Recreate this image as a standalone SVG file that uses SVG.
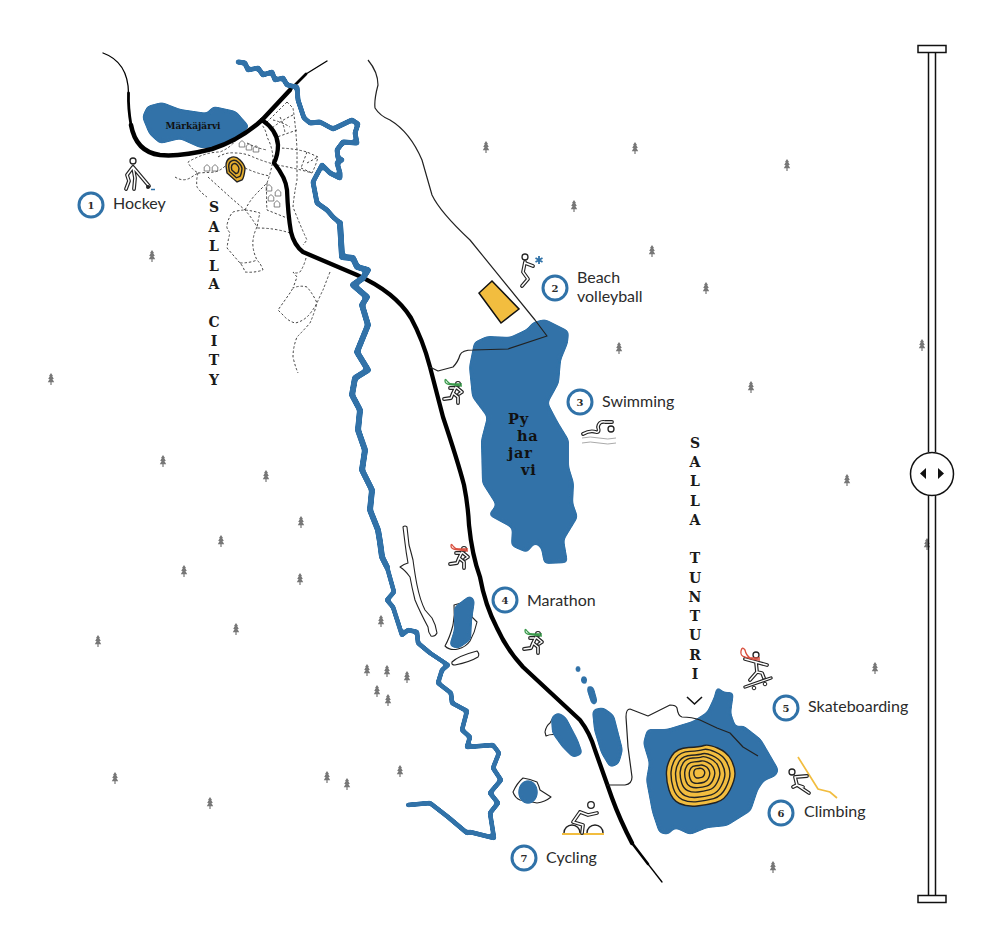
<svg xmlns="http://www.w3.org/2000/svg" xmlns:xlink="http://www.w3.org/1999/xlink" width="1000" height="947" viewBox="0 0 1000 947">
<style>
text{font-family:"Lato","Liberation Sans",sans-serif;fill:#2b2b2b}
.lbl{font-size:16px}
.num{font-family:"DejaVu Serif","Liberation Serif",serif;font-size:10px;font-weight:700;text-anchor:middle}
.ring{fill:#fff;stroke:#3072a8;stroke-width:3}
.v{font-family:"DejaVu Serif","Liberation Serif",serif;font-size:14px;font-weight:700;text-anchor:middle;fill:#1a1a1a}
.lk{font-family:"DejaVu Serif","Liberation Serif",serif;font-weight:700;fill:#111}
.water{fill:#3072a8}
.river{fill:none;stroke:#3072a8;stroke-linejoin:round;stroke-linecap:round}
.road{fill:none;stroke:#000;stroke-linecap:round;stroke-linejoin:round}
.thin{fill:none;stroke:#222;stroke-width:1.2;stroke-linejoin:round}
.trail{fill:none;stroke:#444;stroke-width:1;stroke-dasharray:2.4 2;stroke-linejoin:round}
.pond{fill:#fff;stroke:#222;stroke-width:1.1;stroke-linejoin:round}
.ol{fill:none;stroke:#222;stroke-width:3.8;stroke-linecap:round;stroke-linejoin:round}
.il{fill:none;stroke:#fff;stroke-width:1.5;stroke-linecap:round;stroke-linejoin:round}
.ct{fill:none;stroke:#222;stroke-width:1.4}
.slide{fill:#fff;stroke:#111;stroke-width:1.5}
.tree{fill:#777}
.house{fill:#fff;stroke:#777;stroke-width:.9}
</style>
<defs>
<filter id="soft" filterUnits="userSpaceOnUse" x="0" y="0" width="1000" height="947">
<feGaussianBlur stdDeviation="2.4"/>
<feComponentTransfer><feFuncA type="linear" slope="8" intercept="-3.4"/></feComponentTransfer>
</filter>
<filter id="softr" filterUnits="userSpaceOnUse" x="0" y="0" width="1000" height="947">
<feGaussianBlur stdDeviation="1"/>
<feComponentTransfer><feFuncA type="linear" slope="5" intercept="-1.7"/></feComponentTransfer>
</filter>
<g id="tree"><path class="tree" d="M0-6 2-3H1.2L2.8 0H1.4L3.2 3.2H.6V6H-.6V3.2H-3.2L-1.4 0H-2.8L-1.2-3H-2Z"/></g>
<path id="house" class="house" d="M-2.8 3V-1L0-3.4 2.8-1V3Z"/>
<path id="contour" vector-effect="non-scaling-stroke" d="M-27-19.5Q-22-27-10.5-27.5 1-28 5-29.5 9-31 18.5-27 28-23 32-15.5 36-8 36-1.5 36 5 31 15 26 25 17 27.5 8 30-2 31-12 32-19.5 28.5-27 25-30 15-33 5-32.500-3.500-32-12-27-19.5Z"/>
<path id="mini" vector-effect="non-scaling-stroke" d="M-9-2Q-9-8-5-10 0-13 5-8 10-3 10 1 9 10 7 12L2 14-8 5Z"/>
<path id="runbody" d="M3-5 0 1M3-5 9 0 6 2M1-4-3-4M0 1 5 5 5 11M0 1-2 6-9 7"/>
<path id="hockeybody" d="M133 167 127 175 129 181 126 189M133 167 135 178 134 189M133 167 149 186"/>
<path id="beachbody" d="M525 262 523 272 528 279 522 286M525 263 533 266"/>
<path id="swimbody" d="M583 434Q590 430 596 432 600 433 598 427 599 421 605 422L612 422"/>
<path id="skatebody" d="M745 659 756 662 767 665M756 662 757 672 750 680M757 672 762 673 764 678"/>
<path id="climbbody" d="M795 777 807 776M795 777 797 785 809 793M797 785 803 787M797 785 793 787"/>
<path id="cyclebody" d="M580 812 573 822 583 825 582 833M580 812 588 815 597 813"/>
</defs>

<g id="trees">
<use href="#tree" x="486" y="147"/><use href="#tree" x="635" y="148"/><use href="#tree" x="787" y="165"/><use href="#tree" x="574" y="206"/><use href="#tree" x="652" y="251"/><use href="#tree" x="706" y="288"/><use href="#tree" x="619" y="348"/><use href="#tree" x="922" y="345"/><use href="#tree" x="751" y="387"/><use href="#tree" x="847" y="480"/><use href="#tree" x="927" y="544"/><use href="#tree" x="875" y="668"/><use href="#tree" x="773" y="867"/><use href="#tree" x="152" y="256"/><use href="#tree" x="51" y="379"/><use href="#tree" x="163" y="461"/><use href="#tree" x="266" y="476"/><use href="#tree" x="301" y="522"/><use href="#tree" x="221" y="541"/><use href="#tree" x="184" y="571"/><use href="#tree" x="300" y="579"/><use href="#tree" x="98" y="641"/><use href="#tree" x="236" y="629"/><use href="#tree" x="381" y="621"/><use href="#tree" x="367" y="670"/><use href="#tree" x="387" y="671"/><use href="#tree" x="407" y="677"/><use href="#tree" x="377" y="691"/><use href="#tree" x="388" y="700"/><use href="#tree" x="400" y="771"/><use href="#tree" x="327" y="777"/><use href="#tree" x="347" y="784"/><use href="#tree" x="115" y="778"/><use href="#tree" x="210" y="803"/>
</g>

<g id="ponds">
<path class="pond" d="M403 527Q405 525 407 527L409 545Q411 552 413 560 415 575 417 585 420 600 425 610L432 618Q436 625 437 633 435 637 431 636 428 632 428 627 420 612 415 600 412 588 410 577 405 570 400 567 404 564 408 563 406 552 405 543Z"/>
<path class="pond" d="M452 662Q458 656 477 651 480 654 478 657 470 662 455 665 451 665 452 662Z"/>
<path class="pond" d="M454 605Q455 615 453 625 450 637 445 646 450 651 458 649 466 647 470 641 475 632 477 622L472 617 472 600Z"/>
<path class="pond" d="M545 732Q546 726 550 723 552 719 554 717L562 736Q552 733 546 736Z"/>
<path class="pond" d="M513 792Q517 783 523 778 530 779 537 782 539 786 540 790L551 797Q545 802 537 803 528 801 520 800 515 798 513 792Z"/>
</g>

<g id="lakes" filter="url(#soft)">
<path id="markajarvi" class="water" d="M142 117 147 106 162 102 180 109 207 113 213 106 236 111 250 127 234 139 218 148 200 148 180 139 160 144 149 134Z"/>
<path id="pyhajarvi" class="water" d="M533 322 545 319 569 331 568 343 561 360 559 383 548 403 558 422 569 440 569 467 574 483 573 503 578 517 564 540 568 563 544 564 541 548 535 543 527 553 511 546 512 528 488 515 496 505 482 483 481 440 487 417 472 397 469 367 474 342 487 336 510 337 527 329Z"/>
<path id="tunturi" class="water" d="M717 685 723 692 734 692 731 713 736 727 743 725 761 739 779 770 776 776 764 781 758 790 751 811 727 826 707 828 690 835 675 828 668 835 659 833 652 812 646 780 649 763 643 743 647 729 667 729 693 721 707 712 714 697Z"/>
<path class="water" d="M592 710 603 707 614 715 623 750 619 764 610 768 601 753 594 730Z"/>
<path class="water" d="M551 717 558 712 566 717 578 740 583 754 573 758 562 747 552 733Z"/>
<path class="water" d="M454 607 470 595 475 600 472 620 471 640 458 649 449 646 454 630Z"/>
<ellipse class="water" cx="528" cy="792" rx="10" ry="12"/>
<path class="water" d="M586 687 593 685 598 703 592 706Z"/>
<ellipse class="water" cx="584" cy="680" rx="3.500" ry="5"/>
<ellipse class="water" cx="578" cy="669" rx="3" ry="4.500"/>
</g>

<g id="mountain">
<use href="#contour" transform="translate(699 775)" class="ct" style="fill:#f2bd3f"/>
<use href="#contour" transform="translate(699 775) scale(.86)" class="ct"/>
<use href="#contour" transform="translate(699 775) scale(.72)" class="ct"/>
<use href="#contour" transform="translate(699 774) scale(.58)" class="ct"/>
<use href="#contour" transform="translate(699 774) scale(.44)" class="ct"/>
<use href="#contour" transform="translate(699 774) scale(.3)" class="ct"/>
<use href="#contour" transform="translate(699 773) scale(.16)" class="ct"/>
</g>
<g id="hill">
<use href="#mini" transform="translate(235 168)" class="ct" style="fill:#e6ae2e"/>
<use href="#mini" transform="translate(235 168) scale(.7)" class="ct"/>
<use href="#mini" transform="translate(235 168) scale(.4)" class="ct"/>
</g>
<path id="field" fill="#f2bd3f" stroke="#111" stroke-width="1.5" d="M492 281 519 309 501 323 479 293Z"/>

<g id="houses">
<use href="#house" x="242" y="144"/><use href="#house" x="249" y="147"/><use href="#house" x="256" y="149"/><use href="#house" x="207" y="168"/><use href="#house" x="215" y="168"/><use href="#house" x="269" y="188"/><use href="#house" x="278" y="193"/><use href="#house" x="271" y="198"/><use href="#house" x="277" y="204"/>
</g>

<g id="connectors">
<g id="trails">
<path class="trail" d="M175 177Q183 182 190 178L198 173Q190 168 188 162 205 152 220 152 230 148 236 140M198 173 215 172Q222 170 227 164M198 173Q196 180 197 187 201 193 207 197"/>
<path class="trail" d="M208 177 230 197 245 210Q252 218 257 227 252 237 253 247 254 254 257 260 261 264 263 270 254 273 245 272 243 266 240 263L227 248Q228 240 230 233 226 228 227 225 229 216 233 212 240 210 245 210 254 211 260 213 258 220 257 228 275 228 290 233M240 263Q250 263 257 260"/>
<path class="trail" d="M218 157Q226 152 235 153 245 153 253 157 265 162 277 165 295 168 312 173 316 165 318 157L307 152Q292 148 277 148M245 210Q250 200 257 193 262 188 267 183 271 172 273 160 273 148 267 137 266 130 262 125M247 143Q256 148 267 150M267 183Q266 197 267 210 277 214 287 218M245 168Q258 174 270 176"/>
<path class="trail" d="M287 102 267 122M287 102 293 108Q296 128 297 150 297 165 297 180 294 195 293 207 300 225 307 240L303 245M273 120Q282 122 290 127M293 115Q282 120 272 128M297 130 277 137M280 117Q284 125 285 133M307 163 318 157M301 168 312 173M307 152 301 168"/>
<path class="trail" d="M306 258Q304 266 300 272 296 274 293 272L297 277 293 288Q300 285 307 287 313 294 317 303 312 312 307 317 301 322 295 323 288 321 283 315L278 310 290 293 293 288"/>
<path class="trail" d="M330 272Q326 282 323 290 320 296 317 303 314 314 310 323 303 331 297 337 293 347 293 357 295 366 298 373"/>
</g>
<g id="roads">
<path class="road" stroke-width="4.500" d="M262 120Q240 140 212 149 180 157 160 155 136 152 131 125"/>
<path class="road" stroke-width="2.800" d="M131 125Q128 108 128.500 93"/>
<path class="road" stroke-width="1.300" d="M128.500 93Q128 62 103 53"/>
<path class="road" stroke-width="4.500" d="M262 120 290 90"/>
<path class="road" stroke-width="2.800" d="M290 90 306 74"/>
<path class="road" stroke-width="1.400" d="M306 74 327 61"/>
<path class="road" stroke-width="4.300" d="M262 120Q277 130 278 145 278 155 274 163 286 178 287 190 288 215 291 232 294 245 303 252L357 275Q395 292 411 318 423 340 430 367L443 417Q458 462 464 485 468 505 469 525 472 555 480 577 485 605 497 628 507 650 523 667L580 720Q590 733 595 750L612 798Q620 820 632 843"/>
<path class="road" stroke-width="2.600" d="M632 843 648 864"/>
<path class="road" stroke-width="1.300" d="M648 864 662 882"/>
</g>
<g id="boundaries">
<path class="thin" d="M368 60Q378 72 378 85 374 100 375 108 380 116 390 120 410 132 422 160L432 195Q440 212 470 240L535 320 547 336 508 349 473 350Q462 350 460 355 458 362 453 367L438 371 430 367"/>
<path class="thin" d="M607 785H625Q632 784 632 777L628 747 626 717Q626 709 630 709L648 716 670 705Q676 705 677 708 678 716 682 717 692 717 700 720L717 728 730 733 743 747 758 756"/>
</g>
<g id="rivers" filter="url(#softr)">
<path class="river" stroke-width="4.800" d="M238 62 245 63 248 70 258 68 263 75 272 72 275 80 283 78 287 85 297 87 298 100 304 118 310 123 320 122 333 129 352 120 358 124 355 133 357 143 343 142 337 150 338 158 342 160 337 163 340 173 340 178 330 173 322 165 313 182 317 203 327 210 333 217 340 223"/>
<path class="river" stroke-width="5.800" d="M340 223 342 257 353 258 357 267 368 270 363 278 353 285 367 297 362 305 368 325 357 352 368 370 355 378 352 395 360 410 358 430 365 450 362 470 372 490 370 510 378 530 380 542 382 557 387 567"/>
<path class="river" stroke-width="4.500" d="M387 567 394 592 387 600 393 607 402 635 408 630 417 632 418 643 430 653 448 665 442 670 438 683 451 693 452 703 467 711 462 730 470 737 467 747 493 745 499 753 493 768 501 780 490 793 498 803 490 813 494 838 470 832 467 833 448 817 430 803 408 805"/>
</g>
</g>

<g id="n1"><circle class="ring" cx="91" cy="205" r="12"/><text class="num" x="91" y="209">1</text><text class="lbl" x="113" y="209">Hockey</text>
<use href="#hockeybody" class="ol"/><use href="#hockeybody" class="il"/><circle cx="133" cy="161" r="3" fill="#fff" stroke="#222" stroke-width="1.300"/><circle cx="148" cy="187" r="2" fill="#222"/><path d="M151 189.500H155" stroke="#3072a8" stroke-width="1.500"/></g>

<g id="n2"><circle class="ring" cx="555" cy="288" r="12"/><text class="num" x="555" y="292">2</text><text class="lbl" x="577" y="283">Beach</text><text class="lbl" x="577" y="302">volleyball</text>
<use href="#beachbody" class="ol"/><use href="#beachbody" class="il"/><circle cx="525" cy="257" r="3" fill="#fff" stroke="#222" stroke-width="1.300"/><path d="M539 256V264M535.500 258 542.500 262M535.500 262 542.500 258" fill="none" stroke="#3072a8" stroke-width="1.800"/></g>

<g id="n3"><circle class="ring" cx="580" cy="402" r="12"/><text class="num" x="580" y="406">3</text><text class="lbl" x="602" y="407">Swimming</text>
<use href="#swimbody" class="ol"/><use href="#swimbody" class="il"/><circle cx="611" cy="429" r="3" fill="#fff" stroke="#222" stroke-width="1.300"/><path d="M582 438Q590 436 599 438 608 440 616 438M582 443Q590 441 599 443 608 445 616 443" fill="none" stroke="#aaa" stroke-width="1"/></g>

<g id="n4"><circle class="ring" cx="505" cy="600" r="12"/><text class="num" x="505" y="604">4</text><text class="lbl" x="527" y="606">Marathon</text></g>

<g id="runner-a" transform="translate(453 392)"><use href="#runbody" class="ol"/><use href="#runbody" class="il"/><circle cx="5" cy="-8" r="2.500" fill="#fff" stroke="#222" stroke-width="1.100"/><path d="M9-8H0Q-4-8-6-11-8-14-8-11-8-8-3-7.500L9-6" fill="none" stroke="#3b9a4c" stroke-width="1.300"/></g>
<g id="runner-b" transform="translate(459 557)"><use href="#runbody" class="ol"/><use href="#runbody" class="il"/><circle cx="5" cy="-8" r="2.500" fill="#fff" stroke="#222" stroke-width="1.100"/><path d="M9-8H0Q-4-8-6-11-8-14-8-11-8-8-3-7.500L9-6" fill="none" stroke="#d9503f" stroke-width="1.300"/></g>
<g id="runner-c" transform="translate(533 642)"><use href="#runbody" class="ol"/><use href="#runbody" class="il"/><circle cx="5" cy="-8" r="2.500" fill="#fff" stroke="#222" stroke-width="1.100"/><path d="M9-8H0Q-4-8-6-11-8-14-8-11-8-8-3-7.500L9-6" fill="none" stroke="#3b9a4c" stroke-width="1.300"/></g>

<g id="n5"><circle class="ring" cx="786" cy="708" r="12"/><text class="num" x="786" y="712">5</text><text class="lbl" x="808" y="712">Skateboarding</text>
<use href="#skatebody" class="ol"/><use href="#skatebody" class="il"/><circle cx="756" cy="655" r="3" fill="#fff" stroke="#222" stroke-width="1.300"/><path d="M745 687 771 678" stroke="#222" stroke-width="3.400" stroke-linecap="round"/><path d="M745 687 771 678" stroke="#fff" stroke-width="1.200" stroke-linecap="round"/><circle cx="754" cy="688" r="1.800" fill="#fff" stroke="#222"/><circle cx="765" cy="684" r="1.800" fill="#fff" stroke="#222"/><path d="M760 658H750Q746 655 745 650 742 646 741 651 740 656 745 657 752 660 760 660" fill="none" stroke="#d9503f" stroke-width="1.300"/></g>

<g id="n6"><circle class="ring" cx="781" cy="813" r="12"/><text class="num" x="781" y="817">6</text><text class="lbl" x="804" y="817">Climbing</text>
<path d="M798 757 818 789 830 792 837 798" fill="none" stroke="#f2bd3f" stroke-width="1.700"/><use href="#climbbody" class="ol"/><use href="#climbbody" class="il"/><circle cx="792" cy="772" r="3" fill="#fff" stroke="#222" stroke-width="1.300"/></g>

<g id="n7"><circle class="ring" cx="524" cy="858" r="12"/><text class="num" x="524" y="862">7</text><text class="lbl" x="546" y="863">Cycling</text>
<path d="M564 833A8 8 0 0 1 580 833M587 833A8 8 0 0 1 603 833" fill="none" stroke="#222" stroke-width="1.400"/><path d="M562 834H604" stroke="#f2bd3f" stroke-width="1.800"/><use href="#cyclebody" class="ol"/><use href="#cyclebody" class="il"/><circle cx="591" cy="805" r="3.300" fill="#fff" stroke="#222" stroke-width="1.300"/></g>

<g id="names">
<text class="lk" x="193" y="129" font-size="9" text-anchor="middle">Märkäjärvi</text>
<text class="lk" font-size="14.500" letter-spacing=".8"><tspan x="508" y="424">Py</tspan><tspan x="517" y="441">ha</tspan><tspan x="508" y="458">jar</tspan><tspan x="521" y="475">vi</tspan></text>
<text class="v"><tspan x="214" y="212">S</tspan><tspan x="214" y="232">A</tspan><tspan x="214" y="251">L</tspan><tspan x="214" y="271">L</tspan><tspan x="214" y="289">A</tspan><tspan x="214" y="327">C</tspan><tspan x="214" y="346">I</tspan><tspan x="214" y="365">T</tspan><tspan x="214" y="385">Y</tspan></text>
<text class="v"><tspan x="695" y="448">S</tspan><tspan x="695" y="467">A</tspan><tspan x="695" y="486">L</tspan><tspan x="695" y="506">L</tspan><tspan x="695" y="525">A</tspan><tspan x="695" y="563">T</tspan><tspan x="695" y="583">U</tspan><tspan x="695" y="602">N</tspan><tspan x="695" y="621">T</tspan><tspan x="695" y="640">U</tspan><tspan x="695" y="660">R</tspan><tspan x="695" y="679">I</tspan></text>
<path d="M687 697 694.500 704 702 697" fill="none" stroke="#111" stroke-width="1.600"/>
</g>

<g id="slider">
<path d="M928.500 52V452M935.500 52V452M928.500 495V896M935.500 495V896" fill="none" stroke="#111" stroke-width="1.500"/>
<rect class="slide" x="918" y="45.500" width="28" height="7"/>
<rect class="slide" x="918" y="895.500" width="28" height="7"/>
<circle class="slide" cx="932" cy="474" r="21.500"/>
<path d="M920 473.500 926 468V479ZM944 473.500 938 468V479Z" fill="#111"/>
</g>
</svg>
